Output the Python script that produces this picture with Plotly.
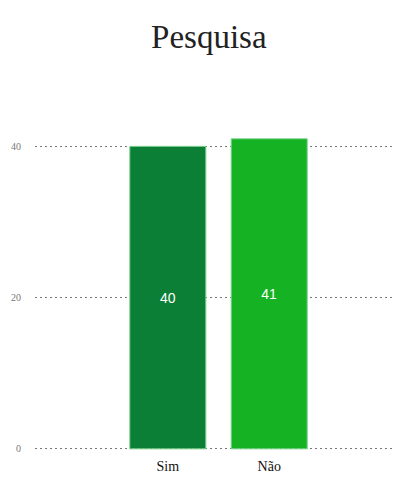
import plotly.graph_objects as go

categories = ["Sim", "Não"]
values = [40, 41]
colors = ["#0b7f36", "#15b323"]
y_ticks = [0, 20, 40]

fig = go.Figure(go.Bar(
    x=categories,
    y=values,
    text=[str(v) for v in values],
    textposition="inside",
    insidetextanchor="middle",
    textfont=dict(family="Liberation Sans, Arial, sans-serif", size=14, color="white"),
    marker=dict(color=colors, line=dict(color="#7fd48f", width=1)),
    width=0.75,
))

fig.update_layout(
    width=393,
    height=476,
    margin=dict(l=27, r=1, t=93, b=34, autoexpand=False),
    paper_bgcolor="white",
    plot_bgcolor="white",
    showlegend=False,
    title=dict(
        text="Pesquisa",
        x=0.511,
        xanchor="center",
        y=1 - 28 / 476,
        yref="container",
        yanchor="middle",
        font=dict(family="Liberation Serif, Times New Roman, serif", size=33, color="#222"),
    ),
    xaxis=dict(
        range=[-1.31, 2.29],
        automargin=False,
        showgrid=False,
        showline=False,
        zeroline=False,
        tickfont=dict(family="Liberation Serif, Times New Roman, serif", size=14, color="#111"),
        ticks="",
        ticklabelstandoff=6,
    ),
    yaxis=dict(
        range=[-0.15, 46],
        automargin=False,
        tickvals=y_ticks,
        ticktext=[str(t) for t in y_ticks],
        showgrid=True,
        gridcolor="#777",
        griddash="2px,3px",
        gridwidth=1,
        zeroline=False,
        showline=False,
        ticks="",
        ticklabelstandoff=13,
        tickfont=dict(family="Liberation Serif, Times New Roman, serif", size=10, color="#777"),
    ),
)

fig.write_html("out.html")
